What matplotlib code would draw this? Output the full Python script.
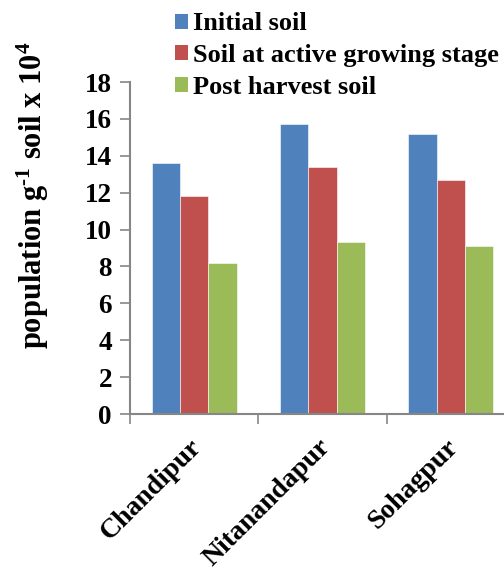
import numpy as np
import matplotlib.pyplot as plt
import matplotlib.transforms as mtransforms
from matplotlib.patches import Patch

sites = ['Chandipur', 'Nitanandapur', 'Sohagpur']
initial = [13.6, 15.7, 15.2]
active = [11.8, 13.4, 12.7]
post = [8.2, 9.3, 9.1]
series_names = ['Initial soil', 'Soil at active growing stage', 'Post harvest soil']
colors = ['#4F81BD', '#C0504D', '#9BBB59']

plt.rcParams['font.family'] = ['Liberation Serif', 'DejaVu Serif']
plt.rcParams['font.weight'] = 'bold'
plt.rcParams['mathtext.fontset'] = 'custom'
plt.rcParams['mathtext.rm'] = 'Liberation Serif:bold'
plt.rcParams['mathtext.bf'] = 'Liberation Serif:bold'
plt.rcParams['mathtext.it'] = 'Liberation Serif:bold'

fig = plt.figure(figsize=(5.04, 5.67), dpi=100)
ax = fig.add_axes([130/504, 1-414/567, 385/504, (414-82)/567])

x = np.arange(len(sites)) + 0.5
w = 0.22
for i, vals in enumerate([initial, active, post]):
    ax.bar(x + (i-1)*w, vals, w, color=colors[i], edgecolor='white', linewidth=0.4)

ax.set_xlim(0, 3)
ax.set_ylim(0, 18)
ax.set_yticks(np.arange(0, 19, 2))
ax.set_xticks([0, 1, 2, 3])
ax.set_xticklabels([])
ax.set_xticks(x, minor=True)
ax.set_xticklabels(sites, minor=True, rotation=45, ha='right', rotation_mode='anchor',
                   fontsize=20, fontweight='bold')
ax.tick_params(axis='x', which='minor', length=0, pad=15)
ax.tick_params(axis='x', which='major', length=7, width=1.2, color='#868686', direction='out')
ax.tick_params(axis='y', length=7, width=1.2, color='#868686', direction='out',
               labelsize=19.5, pad=6)
for lab in ax.get_yticklabels():
    lab.set_fontweight('bold')
shift = mtransforms.ScaledTranslation(-5/100, 0, fig.dpi_scale_trans)
for lab in ax.get_xticklabels(minor=True):
    lab.set_transform(lab.get_transform() + shift)

for s in ['top', 'right']:
    ax.spines[s].set_visible(False)
for s in ['left', 'bottom']:
    ax.spines[s].set_color('#868686')
    ax.spines[s].set_linewidth(1.5)

fig.text(33/504, 1-195/567, 'population g$^{\\text{-1}}$ soil x 10$^{\\text{4}}$',
         rotation=90, va='center', ha='center', fontsize=22, fontweight='bold')

handles = [Patch(facecolor=c) for c in colors]
fig.legend(handles, series_names, loc='upper left', bbox_to_anchor=(151/504, 1.02),
           frameon=False, prop={'weight': 'bold', 'size': 19},
           handlelength=0.5, handleheight=0.5, handletextpad=0.2, labelspacing=0.33)

fig.savefig('out.png', dpi=100)
